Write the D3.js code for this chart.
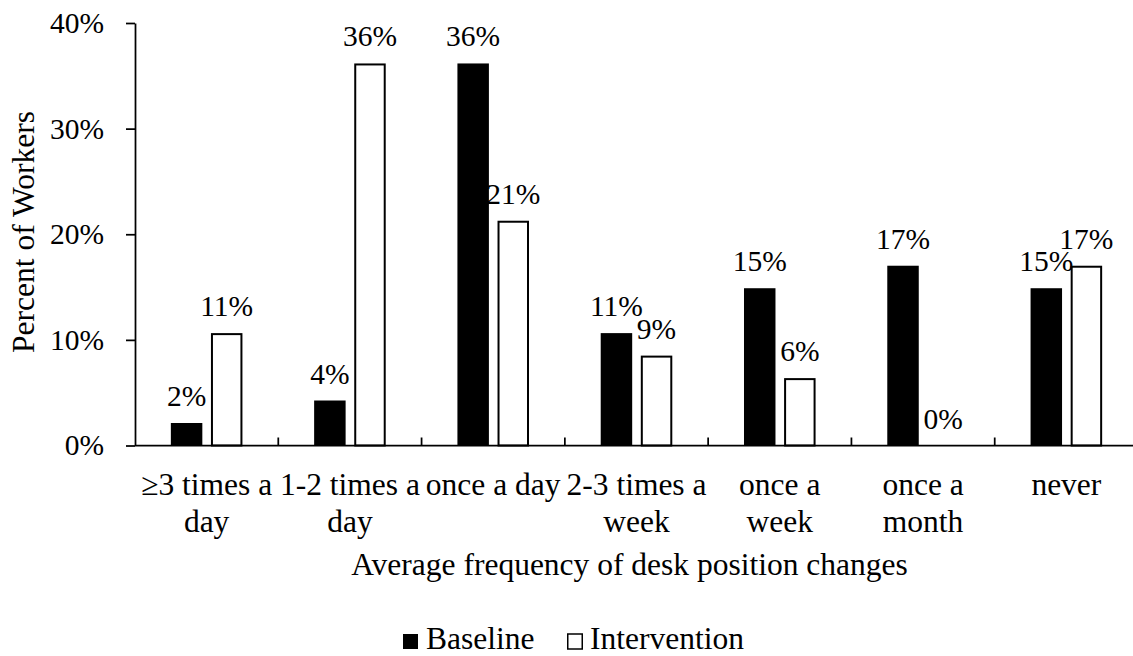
<!DOCTYPE html>
<html>
<head>
<meta charset="utf-8">
<script src="https://cdn.jsdelivr.net/npm/d3@7"></script>
<style>
  html, body { margin: 0; padding: 0; background: #fff; }
  svg { display: block; }
  text { font-family: "Liberation Serif", "Times New Roman", serif; fill: #000; }
</style>
</head>
<body>
<svg id="chart" width="1133" height="656"></svg>
<script>
// Desk position change frequency, share of workers (%)
const categories = ["≥3 times a day", "1-2 times a day", "once a day", "2-3 times a week",
                    "once a week", "once a month", "never"];
const seriesNames = ["Baseline", "Intervention"];
const baseline = [2.13, 4.26, 36.17, 10.64, 14.89, 17.02, 14.89];
const intervention = [10.64, 36.17, 21.28, 8.51, 6.38, 0, 17.02];
const yTicks = [0, 10, 20, 30, 40];

const svg = d3.select("#chart");
const plotLeft = 135, plotRight = 1138, plotTop = 23, plotBottom = 445.5;
const tickFont = 29.5;   // axis ticks and value labels
const labelFont = 31.5;  // category labels, titles, legend

const x0 = d3.scaleBand().domain(categories).range([plotLeft, plotRight]).padding(0);
const x1 = d3.scaleBand().domain(seriesNames).range([0, x0.bandwidth()])
  .paddingInner(0.215).paddingOuter(0.894);
const y = d3.scaleLinear().domain([0, 40]).range([plotBottom, plotTop]);

const rows = categories.map((c, i) => ({
  cat: c,
  vals: [{ s: "Baseline", v: baseline[i] }, { s: "Intervention", v: intervention[i] }]
}));

// Bars
const groups = svg.append("g").selectAll("g").data(rows).join("g")
  .attr("transform", d => `translate(${x0(d.cat)},0)`);

groups.selectAll("rect").data(d => d.vals).join("rect")
  .attr("x", d => x1(d.s) + (d.s === "Intervention" ? 1 : 0))
  .attr("width", d => x1.bandwidth() - (d.s === "Intervention" ? 2 : 0))
  .attr("y", d => d.s === "Intervention" ? y(d.v) + 1 : y(d.v))
  .attr("height", d => d.s === "Intervention" ? Math.max(0, plotBottom - y(d.v) - 1) : plotBottom - y(d.v))
  .attr("fill", d => d.s === "Baseline" ? "#000" : "#fff")
  .attr("stroke", d => d.s === "Intervention" && d.v > 0 ? "#000" : "none")
  .attr("stroke-width", 2);

// Value labels
const fmt = v => d3.format(".0f")(v) + "%";
groups.selectAll("text.val").data(d => d.vals).join("text")
  .attr("class", "val")
  .attr("x", d => x1(d.s) + x1.bandwidth() / 2)
  .attr("y", d => y(d.v) - 17)
  .attr("text-anchor", "middle")
  .attr("font-size", tickFont)
  .text(d => fmt(d.v));

// Y axis
const yAxis = d3.axisLeft(y)
  .tickValues(yTicks)
  .tickFormat(d => d + "%")
  .tickSize(9)
  .tickSizeOuter(0)
  .tickPadding(22);
const gy = svg.append("g").attr("transform", `translate(${plotLeft},0)`).call(yAxis);
gy.select(".domain").attr("stroke", "#000").attr("stroke-width", 1.75);
gy.selectAll(".tick line").attr("stroke", "#000").attr("stroke-width", 1.75);
gy.selectAll(".tick text")
  .attr("font-size", tickFont)
  .attr("font-family", "'Liberation Serif', 'Times New Roman', serif")
  .attr("fill", "#000");

// X axis: baseline and boundary ticks pointing inward
const gx = svg.append("g");
gx.append("line")
  .attr("x1", plotLeft).attr("x2", plotRight)
  .attr("y1", plotBottom).attr("y2", plotBottom)
  .attr("stroke", "#000").attr("stroke-width", 1.75);
const bounds = categories.map(c => x0(c)).concat([x0(categories[categories.length - 1]) + x0.bandwidth()]);
gx.selectAll("line.tick").data(bounds.slice(1)).join("line")
  .attr("class", "tick")
  .attr("x1", d => d).attr("x2", d => d)
  .attr("y1", plotBottom).attr("y2", plotBottom - 8)
  .attr("stroke", "#000").attr("stroke-width", 1.75);

// Category labels, wrapped to the band width
const maxLine = 141;
const catText = gx.selectAll("text.cat").data(categories).join("text")
  .attr("class", "cat")
  .attr("text-anchor", "middle")
  .attr("font-size", labelFont);
catText.each(function (c) {
  const t = d3.select(this);
  const cx = x0(c) + x0.bandwidth() / 2;
  const words = c.split(" ");
  const lines = [];
  let line = [];
  const probe = t.append("tspan");
  words.forEach(w => {
    const trial = line.concat([w]).join(" ");
    probe.text(trial);
    if (probe.node().getComputedTextLength() > maxLine && line.length) {
      lines.push(line.join(" "));
      line = [w];
    } else {
      line.push(w);
    }
  });
  lines.push(line.join(" "));
  probe.remove();
  lines.forEach((l, i) => {
    t.append("tspan").attr("x", cx).attr("y", 495 + i * 36.5).text(l);
  });
});

// Axis titles
svg.append("text")
  .attr("x", (plotLeft + plotRight) / 2 - 7)
  .attr("y", 575)
  .attr("text-anchor", "middle")
  .attr("font-size", labelFont)
  .text("Average frequency of desk position changes");

svg.append("text")
  .attr("transform", "translate(34,232) rotate(-90)")
  .attr("text-anchor", "middle")
  .attr("font-size", labelFont)
  .text("Percent of Workers");

// Legend
const legend = svg.append("g");
const legendItems = [
  { name: "Baseline", x: 403, fill: "#000", stroke: "none" },
  { name: "Intervention", x: 567, fill: "#fff", stroke: "#000" }
];
const li = legend.selectAll("g").data(legendItems).join("g")
  .attr("transform", d => `translate(${d.x},0)`);
li.append("rect")
  .attr("x", d => d.stroke === "none" ? 0 : 0.75)
  .attr("y", 634)
  .attr("width", d => d.stroke === "none" ? 15 : 14.5)
  .attr("height", 15)
  .attr("fill", d => d.fill)
  .attr("stroke", d => d.stroke)
  .attr("stroke-width", 1.5);
li.append("text")
  .attr("x", 23)
  .attr("y", 649)
  .attr("font-size", labelFont)
  .text(d => d.name);
</script>
</body>
</html>
